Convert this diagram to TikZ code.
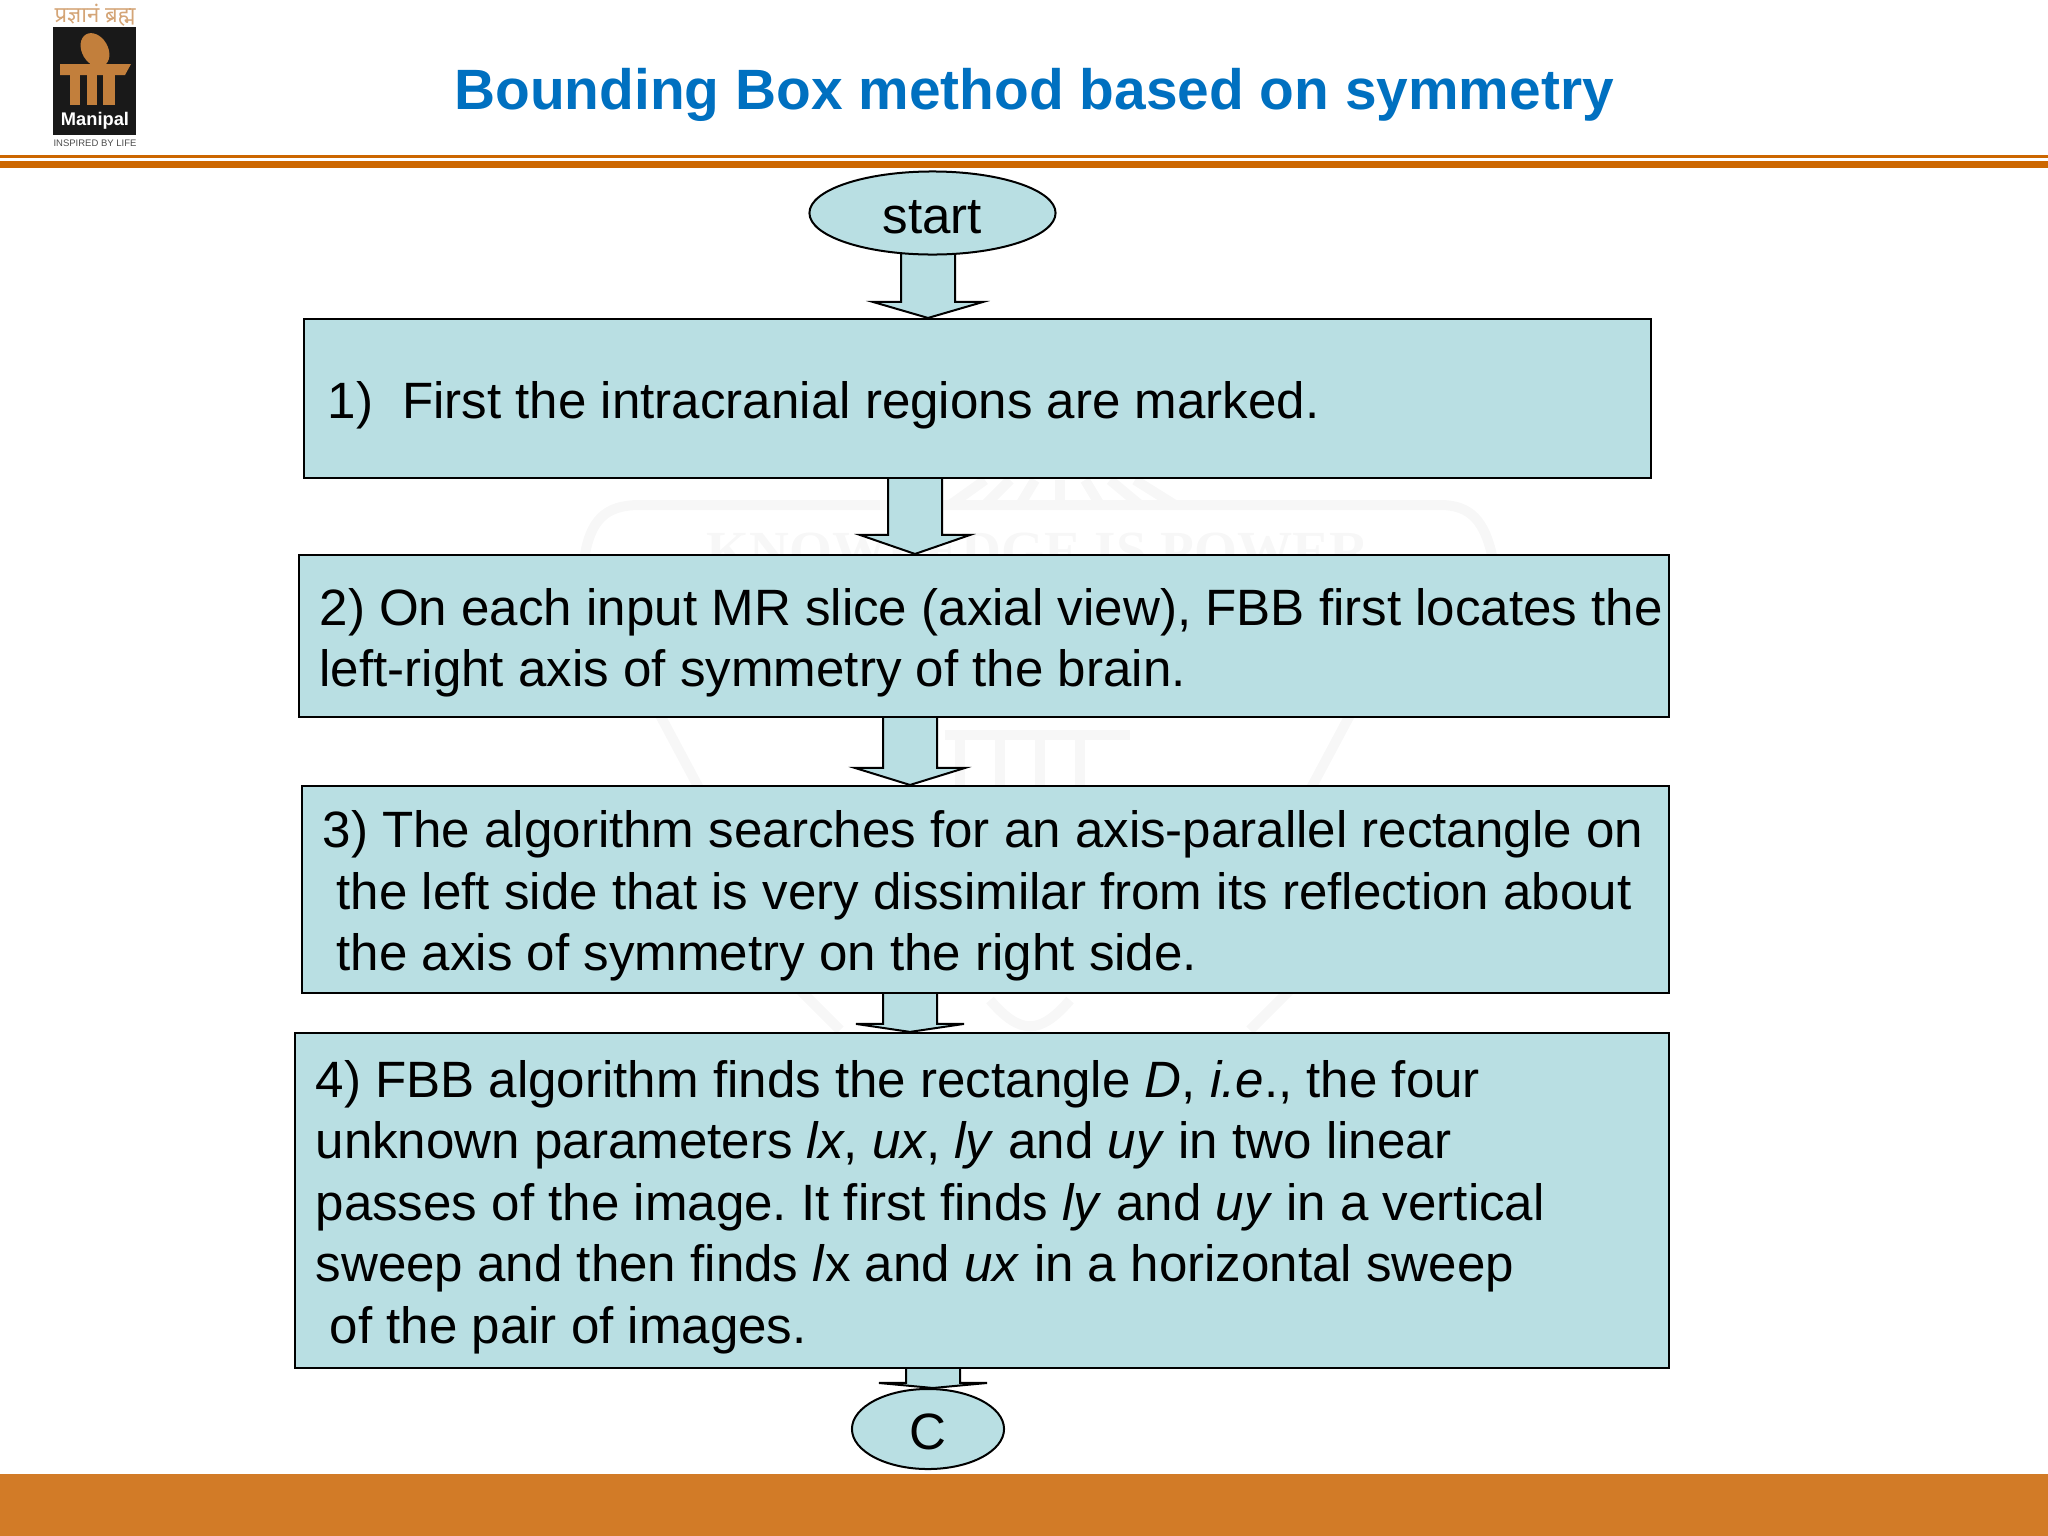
\documentclass[tikz,border=0pt]{standalone}
\usepackage{fontspec}
\setmainfont{Liberation Sans}
\newfontfamily\devafont[Script=Devanagari]{Noto Sans}
\newfontfamily\markfont{Liberation Serif}
\usetikzlibrary{calc,shapes.geometric,backgrounds}
\frenchspacing
\definecolor{boxfill}{HTML}{B9DFE3}
\definecolor{titleblue}{HTML}{0070C0}
\definecolor{rulecolor}{HTML}{CC6600}
\definecolor{bandcolor}{HTML}{D27B27}
\definecolor{logoorange}{HTML}{C27F3C}
\definecolor{markgrey}{HTML}{F7F7F7}
\newcommand{\bodysize}{\fontsize{14.53pt}{17.47pt}\selectfont}
\tikzset{
    flowbox/.style={draw=black, line width=0.02cm, fill=boxfill, rectangle, align=left, inner xsep=0.21cm, inner ysep=0pt, font=\bodysize, execute at begin node={\spaceskip=0pt\xspaceskip=0pt\rule{0pt}{0.5cm}}},
    flowoval/.style={draw=black, line width=0.02cm, fill=boxfill, ellipse, inner sep=0pt, font=\bodysize, execute at begin node={\rule{0pt}{0.42cm}}},
    flowarrow/.style={draw=black, line width=0.02cm, fill=boxfill, line join=miter},
    markline/.style={draw=markgrey, line width=0.1cm}
}
\begin{document}
\begin{tikzpicture}[x=0.01cm,y=-0.01cm]
    \useasboundingbox (0,0) rectangle (2048,1536);

    % Title and rules
    \node (title) at (1034,95) {\fontsize{16.17pt}{20pt}\selectfont\bfseries\color{titleblue} Bounding Box method based on symmetry};
    \fill[rulecolor] (0,155) rectangle (2048,158);
    \fill[rulecolor] (0,161) rectangle (2048,168);
    \fill[bandcolor] (0,1474) rectangle (2048,1536);

    % Logo
    \fill[black!90] (53,27) rectangle (136,135);
    \fill[logoorange, rotate around={30:(95,50)}] (95,50) ellipse (13 and 18);
    \fill[logoorange] (60,64) -- (131,64) -- (125,75) -- (60,75) -- cycle;
    \foreach \legx/\legw in {70/10, 87/10, 103/12}
        \fill[logoorange] (\legx,72) rectangle ({\legx+\legw},105);
    \node[text=white, inner sep=0pt] (logoname) at (95,121) {\fontsize{5.2pt}{6pt}\selectfont\bfseries Manipal};
    \node[text=logoorange!70, inner sep=0pt] (logotop) at (95,15) {\devafont\fontsize{6.3pt}{7pt}\selectfont प्रज्ञानं ब्रह्म};
    \node[text=black!70, inner sep=0pt] (logobottom) at (95,143) {\fontsize{2.7pt}{3pt}\selectfont INSPIRED BY LIFE};

    % Flow nodes
    \node[flowoval, minimum width=2.46cm, minimum height=0.83cm] (start) at (932.5,213) {start};
    \node[flowbox, minimum width=13.47cm, minimum height=1.59cm, text width=13.05cm] (first) at (977.5,398.5) {\hspace*{0.03cm}1)\hspace{0.15cm} First the intracranial regions are marked.};
    \node[flowbox, minimum width=13.7cm, minimum height=1.62cm, text width=13.28cm] (second) at (984,636) {\mbox{2) On each input MR slice (axial view), FBB first locates the}\\left-right axis of symmetry of the brain.};
    \node[flowbox, minimum width=13.67cm, minimum height=2.07cm, text width=13.25cm] (third) at (985.5,889.5) {3) The algorithm searches for an axis-parallel rectangle on\\\hspace*{0.14cm}the left side that is very dissimilar from its reflection about\\\hspace*{0.14cm}the axis of symmetry on the right side.};
    \node[flowbox, minimum width=13.74cm, minimum height=3.35cm, text width=13.32cm] (fourth) at (982,1200.5) {4) FBB algorithm finds the rectangle \textit{D}, \textit{i.e}., the four\\unknown parameters \textit{lx}, \textit{ux}, \textit{ly} and \textit{uy} in two linear\\passes of the image. It first finds \textit{ly} and \textit{uy} in a vertical\\sweep and then finds \textit{l}x and \textit{ux} in a horizontal sweep\\\hspace*{0.14cm}of the pair of images.};
    \node[flowoval, minimum width=1.52cm, minimum height=0.8cm] (cont) at (928,1429) {C};

    \begin{scope}[on background layer]
        % Watermark
        \draw[markline] (584,560) .. controls (590,520) and (605,505) .. (640,505) -- (1440,505) .. controls (1470,505) and (1485,520) .. (1493,560);
        \node[text=markgrey, inner sep=0pt] (markwords) at (1038,552) {\markfont\fontsize{15.7pt}{18pt}\selectfont\bfseries KNOWLEDGE IS POWER};
        \foreach \px/\qx in {950/985, 985/1010, 1020/1035, 1060/1060, 1100/1085, 1140/1110, 1175/1135}
            \draw[markline] (\px,505) -- (\qx,480);
        \draw[markline] (660,715) -- (700,790);
        \draw[markline] (1350,715) -- (1310,790);
        \draw[markline] (945,735) -- (1130,735);
        \foreach \px in {960,1000,1040,1080}
            \draw[markline] (\px,735) -- (\px,790);
        \draw[markline] (800,990) -- (840,1030);
        \draw[markline] (1290,990) -- (1250,1030);
        \draw[markline] (990,1000) .. controls (1020,1035) and (1040,1035) .. (1070,1000);

        % Block arrows
        \foreach \a/\b/\tipx/\headh/\wing in {start/first/928/16/55, first/second/915/19/55, second/third/910/17/55, third/fourth/910/8/54, fourth/cont/933/5/54}
            \draw[flowarrow] ($(\tipx-27,0 |- \a.south)+(0,-5)$) -- ($(\tipx-27,0 |- \b.north)+(0,-\headh)$) -- ($(\tipx-\wing,0 |- \b.north)+(0,-\headh)$) -- (\tipx,0 |- \b.north) -- ($(\tipx+\wing,0 |- \b.north)+(0,-\headh)$) -- ($(\tipx+27,0 |- \b.north)+(0,-\headh)$) -- ($(\tipx+27,0 |- \a.south)+(0,-5)$) -- cycle;
    \end{scope}
\end{tikzpicture}
\end{document}
